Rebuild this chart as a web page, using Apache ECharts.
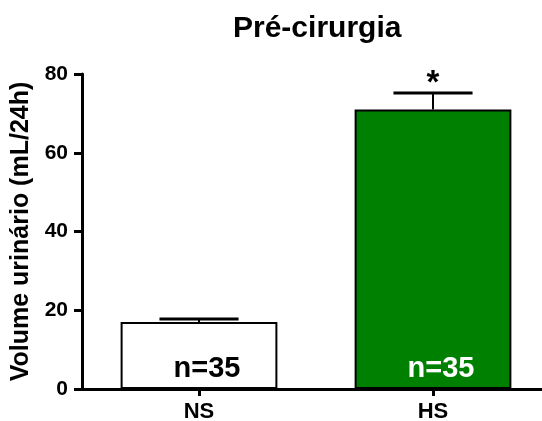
<!DOCTYPE html>
<html>
<head>
<meta charset="utf-8">
<script src="https://cdn.jsdelivr.net/npm/echarts@6/dist/echarts.min.js"></script>
<style>
html,body{margin:0;padding:0;background:#fff;}
#chart{width:542px;height:421px;}
</style>
</head>
<body>
<div id="chart"></div>
<script>
const categories = ['NS', 'HS'];
const means = [17, 71];
const sems = [0.8, 4.2];
const nLabels = ['n=35', 'n=35'];
const significance = ['', '*'];
const barColors = ['#ffffff', '#008000'];
const nLabelColors = ['#000000', '#ffffff'];
const yTicks = [0, 20, 40, 60, 80];

const FONT = "'Liberation Sans', Arial, sans-serif";
const chart = echarts.init(document.getElementById('chart'), null, {renderer: 'canvas'});

const barData = means.map((v, i) => ({
  value: v,
  itemStyle: {color: barColors[i]},
  label: {color: nLabelColors[i]}
}));

const errData = means.map((v, i) => [i, v, sems[i], significance[i]]);

chart.setOption({
  animation: false,
  backgroundColor: '#ffffff',
  title: {
    text: 'Pré-cirurgia',
    left: 228,
    top: 9,
    textStyle: {fontFamily: FONT, fontWeight: 'bold', fontSize: 30, color: '#000'}
  },
  grid: {left: 82, right: -8, top: 74, bottom: 32, containLabel: false, outerBoundsMode: 'none'},
  xAxis: {
    type: 'category',
    data: categories,
    axisLine: {lineStyle: {color: '#000', width: 3}},
    axisTick: {show: true, alignWithLabel: true, length: 7, lineStyle: {color: '#000', width: 3}},
    axisLabel: {fontFamily: FONT, fontWeight: 'bold', fontSize: 22, color: '#000', margin: 12}
  },
  yAxis: {
    type: 'value',
    min: yTicks[0],
    max: yTicks[yTicks.length - 1],
    interval: 20,
    name: 'Volume urinário (mL/24h)',
    nameLocation: 'middle',
    nameGap: 43,
    nameTextStyle: {fontFamily: FONT, fontWeight: 'bold', fontSize: 25, color: '#000'},
    axisLine: {show: true, lineStyle: {color: '#000', width: 3}},
    axisTick: {show: true, length: 8, lineStyle: {color: '#000', width: 3}},
    axisLabel: {fontFamily: FONT, fontWeight: 'bold', fontSize: 21, color: '#000', margin: 14},
    splitLine: {show: false}
  },
  series: [
    {
      type: 'bar',
      data: barData,
      barWidth: '67%',
      itemStyle: {borderColor: '#000', borderWidth: 2},
      label: {
        show: true,
        position: 'insideBottom',
        distance: 6,
        offset: [8, 0],
        formatter: p => nLabels[p.dataIndex],
        fontFamily: FONT,
        fontWeight: 'bold',
        fontSize: 29
      },
      z: 2
    },
    {
      type: 'custom',
      data: errData,
      z: 3,
      renderItem: function (params, api) {
        const i = api.value(0);
        const m = api.value(1);
        const e = api.value(2);
        const sig = significance[params.dataIndex];
        const base = api.coord([i, m]);
        const top = api.coord([i, m + e]);
        const band = api.size([1, 0])[0];
        const half = band * 0.169;
        const children = [
          {type: 'line', shape: {x1: top[0], y1: base[1], x2: top[0], y2: top[1]},
           style: {stroke: '#000', lineWidth: 2}},
          {type: 'line', shape: {x1: top[0] - half, y1: top[1], x2: top[0] + half, y2: top[1]},
           style: {stroke: '#000', lineWidth: 3}}
        ];
        if (sig) {
          children.push({type: 'text', x: top[0], y: top[1] - 9,
            style: {text: sig, fill: '#000', font: 'bold 33px ' + FONT, align: 'center', verticalAlign: 'middle'}});
        }
        return {type: 'group', children: children};
      }
    }
  ]
});
</script>
</body>
</html>
